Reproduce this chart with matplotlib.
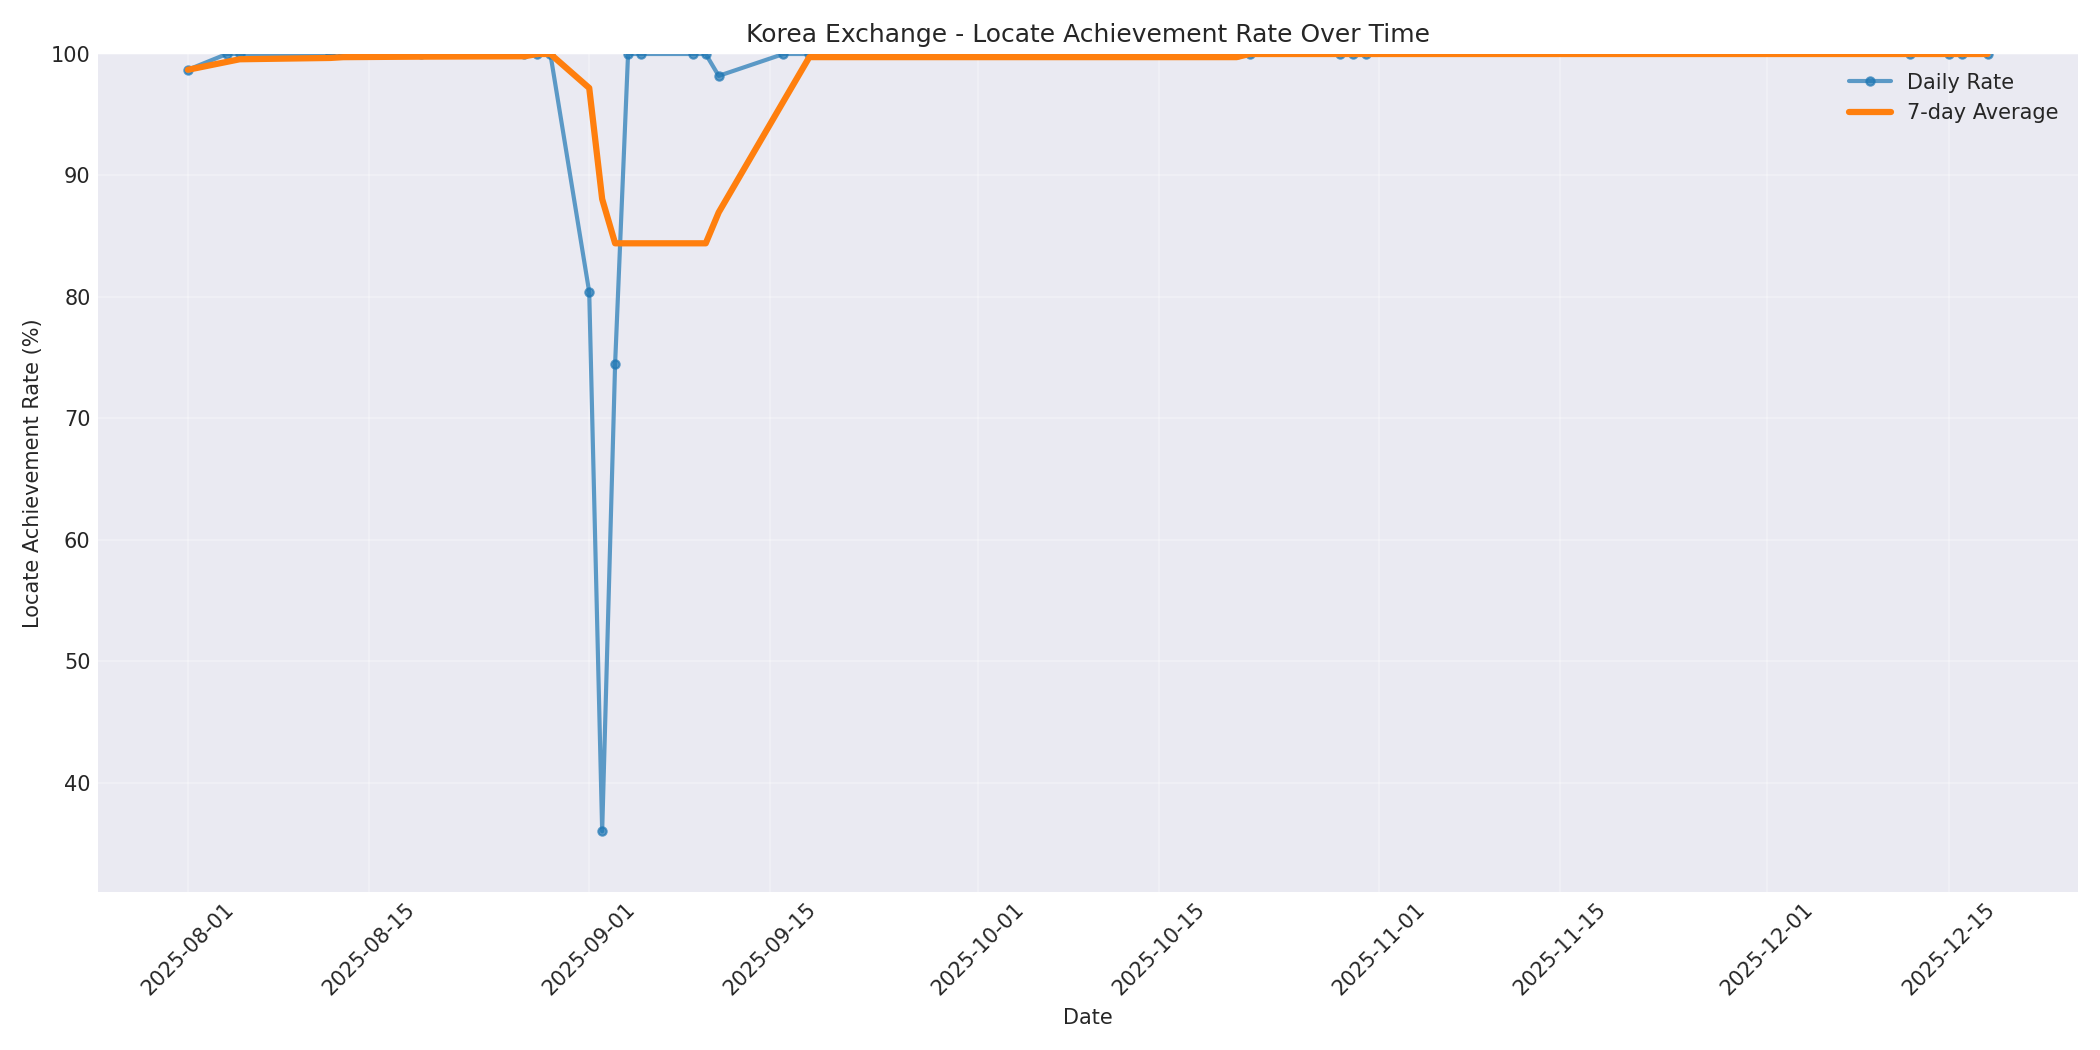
import pandas as pd
import matplotlib
matplotlib.use('Agg')
import matplotlib.pyplot as plt

plt.style.use('seaborn-v0_8-darkgrid')
plt.rcParams['font.family'] = ['DejaVu Sans']

dates = [
    '2025-08-01', '2025-08-04', '2025-08-05', '2025-08-12', '2025-08-13',
    '2025-08-19', '2025-08-27', '2025-08-28', '2025-08-29', '2025-09-01',
    '2025-09-02', '2025-09-03', '2025-09-04', '2025-09-05', '2025-09-09',
    '2025-09-10', '2025-09-11', '2025-09-16', '2025-09-18', '2025-09-25',
    '2025-10-02', '2025-10-14', '2025-10-21', '2025-10-22', '2025-10-29',
    '2025-10-30', '2025-10-31', '2025-12-12', '2025-12-15', '2025-12-16',
    '2025-12-18',
]
rates = [
    98.7, 100, 100, 100, 100,
    100, 100, 100, 100, 80.4,
    36.0, 74.5, 100, 100, 100,
    100, 98.2, 100, 100, 100,
    100, 100, 100, 100, 100,
    100, 100, 100, 100, 100,
    100,
]

df = pd.DataFrame({'date': pd.to_datetime(dates), 'rate': rates})
df['rolling'] = df['rate'].rolling(window=7, min_periods=1).mean()

fig, ax = plt.subplots(figsize=(14, 7), dpi=150)
ax.plot(df['date'], df['rate'], marker='o', linewidth=2, markersize=4,
        alpha=0.7, color='#1f77b4', label='Daily Rate')
ax.plot(df['date'], df['rolling'], linewidth=3, color='#ff7f0e',
        label='7-day Average')

ax.set_title('Korea Exchange - Locate Achievement Rate Over Time', fontsize=12)
ax.set_xlabel('Date')
ax.set_ylabel('Locate Achievement Rate (%)')
ax.set_ylim(df['rate'].min() - 5, 100)
ax.grid(True, alpha=0.3)
ax.legend(loc='upper right')
plt.xticks(rotation=45)
plt.tight_layout()
plt.savefig('out.png')
